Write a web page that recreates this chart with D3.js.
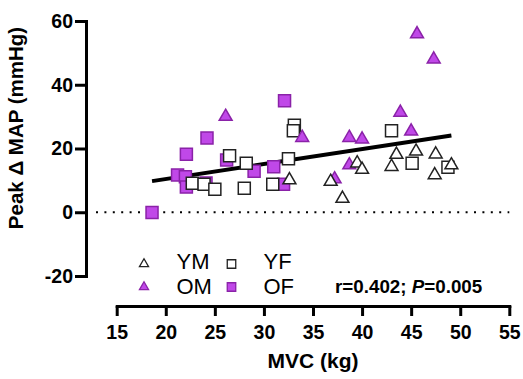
<!DOCTYPE html>
<html>
<head>
<meta charset="utf-8">
<script src="https://cdn.jsdelivr.net/npm/d3@7"></script>
<style>
  html, body { margin: 0; padding: 0; background: #fff; }
  svg { display: block; font-family: Arial, "Liberation Sans", sans-serif; }
</style>
</head>
<body>
<div id="chart"></div>
<script>
// MVC (kg) vs peak change in MAP (mmHg), one array pair per group
const ymX = [32.6, 36.8, 38.0, 39.5, 40.0, 43.5, 43.0, 45.5, 47.5, 47.4, 49.1];
const ymY = [10.1, 9.6, 4.3, 15.4, 13.4, 18.1, 14.3, 19.1, 18.2, 11.7, 14.8];

const yfX = [22.7, 23.9, 25.0, 26.5, 28.2, 28.0, 30.9, 32.5, 33.1, 33.0, 43.0, 45.1, 48.75];
const yfY = [9.1, 8.8, 7.2, 17.7, 15.4, 7.5, 8.8, 16.8, 27.3, 25.6, 25.6, 15.4, 14.1];

const omX = [26.1, 33.9, 37.2, 38.7, 40.0, 38.7, 43.9, 45.0, 45.6, 47.3];
const omY = [30.0, 23.4, 10.4, 23.4, 22.9, 14.8, 31.3, 25.4, 55.9, 48.0];

const ofX = [18.6, 21.2, 22.0, 22.1, 22.1, 24.1, 24.2, 26.2, 29.0, 31.0, 32.0, 32.1];
const ofY = [-0.1, 11.7, 11.1, 7.9, 18.2, 9.2, 23.3, 16.4, 12.9, 14.3, 8.8, 35.0];

const xTicks = [15, 20, 25, 30, 35, 40, 45, 50, 55];
const yTicks = [-20, 0, 20, 40, 60];
const legendKeys = ['YM', 'YF', 'OM', 'OF'];
const fit = [1.02, 0.47]; // intercept, slope
const statLabel = ['r=0.402; ', 'P', '=0.005'];

const width = 523, height = 379;
const purple = '#c048e8', purpleDark = '#8a22a8';

const groups = [
  { name: 'OF', xs: ofX, ys: ofY, shape: d3.symbolSquare, fill: purple, stroke: purpleDark },
  { name: 'YF', xs: yfX, ys: yfY, shape: d3.symbolSquare, fill: '#fff', stroke: '#222' },
  { name: 'OM', xs: omX, ys: omY, shape: d3.symbolTriangle, fill: purple, stroke: purpleDark },
  { name: 'YM', xs: ymX, ys: ymY, shape: d3.symbolTriangle, fill: '#fff', stroke: '#222' }
];

const x = d3.scaleLinear().domain([15, 55]).range([116.7, 509.3]);
const y = d3.scaleLinear().domain([-20, 60]).range([276, 21]);
const yAxisX = 86, xAxisY = 306;

const svg = d3.select('#chart')
  .append('svg')
  .attr('width', width)
  .attr('height', height);

// zero reference line
svg.append('line')
  .attr('x1', yAxisX + 10)
  .attr('x2', x.range()[1])
  .attr('y1', y(0))
  .attr('y2', y(0))
  .attr('stroke', '#000')
  .attr('stroke-width', 2)
  .attr('stroke-dasharray', '2,6.4');

// regression line over the data range
const allX = [].concat(ymX, yfX, omX, ofX);
const xExt = d3.extent(allX);
svg.append('line')
  .attr('x1', x(xExt[0]))
  .attr('x2', x(xExt[1]))
  .attr('y1', y(fit[0] + fit[1] * xExt[0]))
  .attr('y2', y(fit[0] + fit[1] * xExt[1]))
  .attr('stroke', '#000')
  .attr('stroke-width', 4);

const sizeOf = shape => shape === d3.symbolSquare ? 144 : 72;

groups.forEach(g => {
  const pts = g.xs.map((v, i) => ({ x: v, y: g.ys[i] }));
  svg.append('g')
    .selectAll('path')
    .data(pts)
    .join('path')
    .attr('transform', d => `translate(${x(d.x)},${y(d.y)})`)
    .attr('d', d3.symbol().type(g.shape).size(sizeOf(g.shape)))
    .attr('fill', g.fill)
    .attr('stroke', g.stroke)
    .attr('stroke-width', 1.5);
});

// axes
const xAxis = svg.append('g')
  .attr('transform', `translate(0,${xAxisY})`)
  .call(d3.axisBottom(x).tickValues(xTicks).tickSize(10).tickSizeOuter(0).tickPadding(9)
    .tickFormat(d => String(d)));

const yAxis = svg.append('g')
  .attr('transform', `translate(${yAxisX},0)`)
  .call(d3.axisLeft(y).tickValues(yTicks).tickSize(11).tickSizeOuter(0).tickPadding(2)
    .tickFormat(d => String(d)));

[xAxis, yAxis].forEach(ax => {
  ax.select('.domain').attr('stroke-width', 3).attr('stroke-linecap', 'square');
  ax.selectAll('.tick line').attr('stroke-width', 3);
  ax.selectAll('.tick text')
    .attr('fill', '#000')
    .style('font-size', '19.5px')
    .style('font-weight', 'bold')
    .style('font-family', 'Arial, "Liberation Sans", sans-serif');
});

svg.append('text')
  .attr('x', (x.range()[0] + x.range()[1]) / 2)
  .attr('y', 368)
  .attr('text-anchor', 'middle')
  .style('font-size', '21px')
  .style('font-weight', 'bold')
  .text('MVC (kg)');

svg.append('text')
  .attr('transform', 'translate(23,128) rotate(-90)')
  .attr('text-anchor', 'middle')
  .style('font-size', '20.5px')
  .style('font-weight', 'bold')
  .text('Peak Δ MAP (mmHg)');

// legend, two columns by two rows
const legend = svg.append('g');
legendKeys.forEach((key, i) => {
  const g = groups.find(d => d.name === key);
  const col = i % 2, row = Math.floor(i / 2);
  const sx = 144 + col * 87.5, sy = 264 + row * 23;
  legend.append('path')
    .attr('transform', `translate(${sx},${sy})`)
    .attr('d', d3.symbol().type(g.shape).size(g.shape === d3.symbolSquare ? 72 : 36))
    .attr('fill', g.fill)
    .attr('stroke', g.stroke)
    .attr('stroke-width', 1.3);
  legend.append('text')
    .attr('x', 176.5 + col * 87)
    .attr('y', 268.5 + row * 25)
    .style('font-size', '22px')
    .text(key);
});

const stat = svg.append('text')
  .attr('x', 335)
  .attr('y', 292.5)
  .style('font-size', '18.8px')
  .style('font-weight', 'bold');
stat.append('tspan').text(statLabel[0]);
stat.append('tspan').style('font-style', 'italic').text(statLabel[1]);
stat.append('tspan').text(statLabel[2]);
</script>
</body>
</html>
